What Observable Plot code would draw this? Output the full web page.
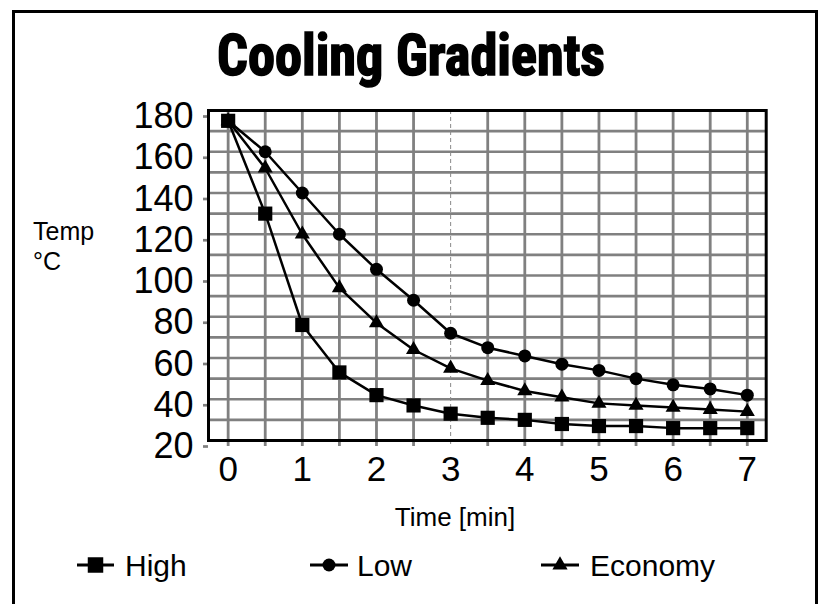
<!DOCTYPE html>
<html><head><meta charset="utf-8">
<script src="https://cdn.jsdelivr.net/npm/d3@7"></script>
<script src="https://cdn.jsdelivr.net/npm/@observablehq/plot@0.6"></script>
<style>
html,body{margin:0;padding:0;background:#fff;}
#wrap{position:relative;width:819px;height:604px;overflow:hidden;background:#fff;font-family:'Liberation Sans',Arimo,Roboto,sans-serif;}
#frame{position:absolute;left:12px;top:10px;width:806px;height:700px;border:3px solid #000;box-sizing:border-box;}
#chart{position:absolute;left:0;top:0;}
#overlay{position:absolute;left:0;top:0;pointer-events:none;}
</style></head>
<body><div id="wrap"><div id="frame"></div><div id="chart"></div></div>
<script>
// ---- data ----
const times = [0, 0.5, 1, 1.5, 2, 2.5, 3, 3.5, 4, 4.5, 5, 5.5, 6, 6.5, 7];
const high = [175, 130, 76, 53, 42, 37, 33, 31, 30, 28, 27, 27, 26, 26, 26];
const low = [175, 160, 140, 120, 103, 88, 72, 65, 61, 57, 54, 50, 47, 45, 42];
const economy = [175, 152, 120, 94, 77, 64, 55, 49, 44, 41, 38, 37, 36, 35, 34];
const seriesNames = ["High", "Low", "Economy"];
const xTickLabels = [0, 1, 2, 3, 4, 5, 6, 7];
const dashedX = [3];
const yTickLabels = [20, 40, 60, 80, 100, 120, 140, 160, 180];
const yGrid = [30, 40, 50, 60, 70, 80, 90, 100, 110, 120, 130, 140, 150, 160, 170];
const titleText = "Cooling Gradients";
const yLabelLines = ["Temp", "°C"];
const xLabelText = "Time [min]";

// ---- build ----
const FONT = "'Liberation Sans', Arimo, Roboto, sans-serif";
const seriesValues = {High: high, Low: low, Economy: economy};
const rows = seriesNames.flatMap(s => times.map((t, i) => ({t, v: seriesValues[s][i], s})));
const solidX = times.filter(t => !dashedX.includes(t));
const symbolOf = {High: "square", Low: "circle", Economy: "triangle"};
const rOf = {High: 8, Low: 6.5, Economy: 5.6};
const grey = "#808080";

const chart = Plot.plot({
  width: 819, height: 500,
  marginTop: 110, marginBottom: 60, marginLeft: 208, marginRight: 53.3,
  x: {domain: [-0.265, 7.255], axis: null},
  y: {domain: [20, 180], axis: null},
  style: {fontFamily: FONT, background: "transparent", overflow: "visible", color: "black"},
  marks: [
    Plot.gridY(yGrid, {stroke: grey, strokeOpacity: 1, strokeWidth: 2.7}),
    Plot.gridX(solidX, {stroke: grey, strokeOpacity: 1, strokeWidth: 2.8}),
    Plot.gridX(dashedX, {stroke: "#8a8a8a", strokeOpacity: 1, strokeWidth: 1, strokeDasharray: "4,3"}),
    Plot.axisX(solidX, {tickSize: 6, stroke: grey, strokeWidth: 2.8, tickFormat: () => "", label: null}),
    Plot.axisX(dashedX, {tickSize: 6, stroke: "#8a8a8a", strokeWidth: 1, strokeDasharray: "4,3", tickFormat: () => "", label: null}),
    Plot.axisX(xTickLabels, {tickSize: 0, tickPadding: 16, fontSize: 35, fill: "black", label: null}),
    Plot.axisY(yTickLabels, {tickSize: 5, tickPadding: 10, stroke: grey, strokeWidth: 2.7, fontSize: 36, fill: "black", dy: 6, label: null}),
    Plot.frame({stroke: "black", strokeWidth: 3}),
    Plot.line(rows, {x: "t", y: "v", z: "s", stroke: "black", strokeWidth: 2.5}),
    ...seriesNames.map(s => Plot.dot(rows.filter(d => d.s === s), {x: "t", y: "v", symbol: symbolOf[s], r: rOf[s], fill: "black", stroke: "none"}))
  ]
});
document.getElementById("chart").appendChild(chart);

// ---- overlay texts & legend ----
const ov = d3.select("#wrap").append("svg").attr("id", "overlay")
  .attr("width", 819).attr("height", 604)
  .style("font-family", FONT);

ov.append("text").text(titleText)
  .attr("x", 217).attr("y", 75)
  .attr("textLength", 388).attr("lengthAdjust", "spacingAndGlyphs")
  .style("font-family", "'Liberation Sans Narrow', 'Roboto Condensed', 'DejaVu Sans Condensed', sans-serif")
  .style("font-weight", "bold").style("font-size", "57px")
  .attr("fill", "black").attr("stroke", "black").attr("stroke-width", 1.6);

yLabelLines.forEach((line, i) => {
  ov.append("text").text(line).attr("x", 33).attr("y", 240 + i * 30)
    .style("font-size", "25px").attr("fill", "black");
});

ov.append("text").text(xLabelText).attr("x", 455).attr("y", 526)
  .attr("text-anchor", "middle").style("font-size", "26px").attr("fill", "black");

const legendLayout = {High: [77, 114, 125], Low: [310, 348, 357], Economy: [541, 579, 590]};
const legendSym = {High: d3.symbolSquare, Low: d3.symbolCircle, Economy: d3.symbolTriangle};
const legendSize = {High: 240, Low: 133, Economy: 100};
const ly = 565;
seriesNames.forEach(s => {
  const [x1, x2, tx] = legendLayout[s];
  ov.append("line").attr("x1", x1).attr("x2", x2).attr("y1", ly).attr("y2", ly)
    .attr("stroke", "black").attr("stroke-width", 3);
  ov.append("path").attr("d", d3.symbol(legendSym[s], legendSize[s])())
    .attr("transform", `translate(${(x1 + x2) / 2},${ly})`).attr("fill", "black");
  ov.append("text").text(s).attr("x", tx).attr("y", 576)
    .style("font-size", "30px").attr("fill", "black");
});
</script>
</body></html>
